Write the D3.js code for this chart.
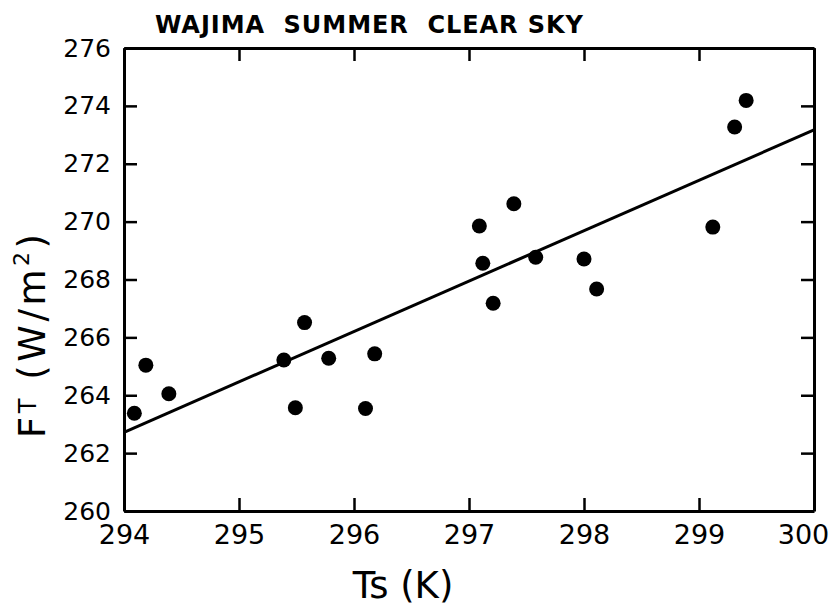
<!DOCTYPE html>
<html>
<head>
<meta charset="utf-8">
<script src="https://cdn.jsdelivr.net/npm/d3@7"></script>
<style>
  html, body { margin: 0; padding: 0; background: #fff; }
  svg { display: block; }
  text { font-family: "DejaVu Sans", sans-serif; fill: #000; }
</style>
</head>
<body>
<svg id="chart" width="834" height="608"></svg>
<script>
// Surface temperature (K) and outgoing flux (W/m^2), Wajima, clear summer days
const surfaceTemp = [294.09, 294.19, 294.39, 295.39, 295.49, 295.57, 295.78, 296.10, 296.18,
                     297.09, 297.12, 297.21, 297.39, 297.58, 298.00, 298.11, 299.12, 299.31, 299.41];
const fluxTop     = [263.38, 265.04, 264.05, 265.22, 263.57, 266.51, 265.28, 263.54, 265.43,
                     269.85, 268.56, 267.18, 270.62, 268.77, 268.71, 267.67, 269.81, 273.27, 274.19];

// Straight-line fit drawn across the full temperature range
const fitTemp = [294, 300];
const fitFlux = [262.72, 273.17];

const xTicks = [294, 295, 296, 297, 298, 299, 300];
const yTicks = [260, 262, 264, 266, 268, 270, 272, 274, 276];

const titleText = "WAJIMA  SUMMER  CLEAR SKY";

const svg = d3.select("#chart");
const plotL = 124, plotR = 814, plotT = 48, plotB = 511;

const x = d3.scaleLinear().domain([294, 300]).range([plotL, plotR]);
const y = d3.scaleLinear().domain([260, 276]).range([plotB, plotT]);

const tickLen = 13;

function styleAxis(g) {
  g.selectAll("path.domain").attr("stroke", "#000").attr("stroke-width", 3);
  g.selectAll(".tick line").attr("stroke", "#000").attr("stroke-width", 2.5);
}

// bottom axis with labels
const gx = svg.append("g")
  .attr("transform", `translate(0,${plotB})`)
  .call(d3.axisBottom(x).tickValues(xTicks).tickSizeInner(-tickLen).tickSizeOuter(0)
        .tickPadding(14).tickFormat(d3.format("d")));
gx.selectAll(".tick text").attr("font-size", 27).attr("font-family", "DejaVu Sans");
// last label sits just inside the right edge of the page
gx.selectAll(".tick text").filter(d => d === 300).attr("x", -11);
styleAxis(gx);

// top axis, ticks only
const gxt = svg.append("g")
  .attr("transform", `translate(0,${plotT})`)
  .call(d3.axisTop(x).tickValues(xTicks).tickSizeInner(-tickLen).tickSizeOuter(0).tickFormat(""));
styleAxis(gxt);

// left axis with labels
const gy = svg.append("g")
  .attr("transform", `translate(${plotL},0)`)
  .call(d3.axisLeft(y).tickValues(yTicks).tickSizeInner(-tickLen).tickSizeOuter(0)
        .tickPadding(13).tickFormat(d3.format("d")));
gy.selectAll(".tick text").attr("font-size", 25).attr("font-family", "DejaVu Sans");
styleAxis(gy);

// right axis, ticks only
const gyr = svg.append("g")
  .attr("transform", `translate(${plotR},0)`)
  .call(d3.axisRight(y).tickValues(yTicks).tickSizeInner(-tickLen).tickSizeOuter(0).tickFormat(""));
styleAxis(gyr);

// fitted line
svg.append("path")
  .datum(d3.zip(fitTemp, fitFlux))
  .attr("fill", "none")
  .attr("stroke", "#000")
  .attr("stroke-width", 3)
  .attr("d", d3.line().x(d => x(d[0])).y(d => y(d[1])));

// observations
svg.append("g")
  .selectAll("circle")
  .data(d3.zip(surfaceTemp, fluxTop))
  .join("circle")
  .attr("cx", d => x(d[0]))
  .attr("cy", d => y(d[1]))
  .attr("r", 7.5)
  .attr("fill", "#000");

// title
svg.append("text")
  .attr("x", 155)
  .attr("y", 33)
  .attr("font-size", 24)
  .attr("font-weight", "bold")
  .attr("textLength", 428)
  .attr("lengthAdjust", "spacing")
  .style("white-space", "pre")
  .text(titleText);

// x-axis title
svg.append("text")
  .attr("x", 403)
  .attr("y", 598)
  .attr("text-anchor", "middle")
  .attr("font-size", 37)
  .text("Ts (K)");

// y-axis title: F with small raised T, and m squared
const yl = svg.append("text")
  .attr("transform", "translate(45,336) rotate(-90)")
  .attr("text-anchor", "middle")
  .attr("font-size", 37)
  .attr("textLength", 204)
  .attr("lengthAdjust", "spacing")
  .style("white-space", "pre");
yl.append("tspan").text("F");
yl.append("tspan").attr("font-size", 24).attr("dy", -9).text("T");
yl.append("tspan").attr("dy", 9).text(" (W/m");
yl.append("tspan").attr("font-size", 22).attr("dy", -16).text("2");
yl.append("tspan").attr("dy", 16).text(")");
</script>
</body>
</html>
